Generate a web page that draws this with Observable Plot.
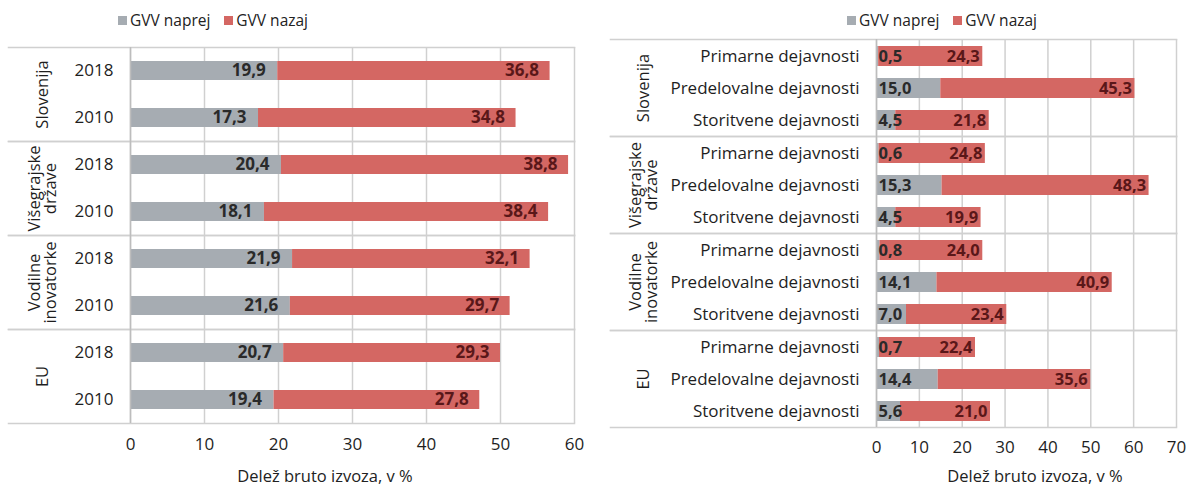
<!DOCTYPE html>
<html>
<head>
<meta charset="utf-8">
<script src="https://cdn.jsdelivr.net/npm/d3@7"></script>
<script src="https://cdn.jsdelivr.net/npm/@observablehq/plot@0.6"></script>
<style>
  html, body { margin: 0; padding: 0; background: #fff; }
  #wrap { position: relative; width: 1187px; height: 486px; overflow: hidden; font-family: "Open Sans", sans-serif; color: #222; }
  .panel { position: absolute; top: 0; }
  .legend { position: absolute; top: 9px; font-size: 15.5px; display: flex; gap: 14px; align-items: center; white-space: nowrap; }
  .legend span.sw { display: inline-block; width: 9px; height: 9px; margin-right: 3px; vertical-align: 1px; }
  .atitle { position: absolute; top: 464px; font-size: 16.5px; transform: translateX(-50%); white-space: nowrap; }
</style>
</head>
<body>
<div id="wrap">
  <div class="panel" id="left" style="left:0px"></div>
  <div class="panel" id="right" style="left:600px"></div>
  <div class="legend" id="legL" style="left:118px"></div>
  <div class="legend" id="legR" style="left:847px"></div>
  <div class="atitle" id="titL" style="left:325px"></div>
  <div class="atitle" id="titR" style="left:1035px"></div>
</div>
<script>
// ---- data ----
const seriesNames = ["GVV naprej", "GVV nazaj"];
const seriesColors = ["#A6ACB2", "#D46763"];
const groups = ["Slovenija", "Višegrajske\ndržave", "Vodilne\ninovatorke", "EU"];
const years = ["2018", "2010"];
const leftForward = [19.9, 17.3, 20.4, 18.1, 21.9, 21.6, 20.7, 19.4];
const leftBackward = [36.8, 34.8, 38.8, 38.4, 32.1, 29.7, 29.3, 27.8];
const sectors = ["Primarne dejavnosti", "Predelovalne dejavnosti", "Storitvene dejavnosti"];
const rightForward = [0.5, 15.0, 4.5, 0.6, 15.3, 4.5, 0.8, 14.1, 7.0, 0.7, 14.4, 5.6];
const rightBackward = [24.3, 45.3, 21.8, 24.8, 48.3, 19.9, 24.0, 40.9, 23.4, 22.4, 35.6, 21.0];
const leftTicks = [0, 10, 20, 30, 40, 50, 60];
const rightTicks = [0, 10, 20, 30, 40, 50, 60, 70];
const axisTitle = "Delež bruto izvoza, v %";

const fmt = v => v.toFixed(1).replace(".", ",");

function buildRows(cats, fwd, bwd) {
  const rows = [];
  groups.forEach((g, gi) => {
    cats.forEach((c, ci) => {
      const i = gi * cats.length + ci;
      rows.push({group: g, cat: c, series: seriesNames[0], x1: 0, x2: fwd[i], v: fwd[i]});
      rows.push({group: g, cat: c, series: seriesNames[1], x1: fwd[i], x2: fwd[i] + bwd[i], v: bwd[i]});
    });
  });
  return rows;
}

function makeChart(opts) {
  const rows = buildRows(opts.cats, opts.fwd, opts.bwd);
  const fw = rows.filter(d => d.series === seriesNames[0]);
  const bw = rows.filter(d => d.series === seriesNames[1]);
  const lineColor = "#d0d0d0";
  return Plot.plot({
    width: opts.width,
    height: 486,
    marginLeft: opts.marginLeft,
    marginRight: opts.marginRight,
    marginTop: opts.marginTop,
    marginBottom: opts.marginBottom,
    style: {fontFamily: "Open Sans, sans-serif", fontSize: "16px", color: "#222", background: "#fff"},
    x: {domain: [opts.ticks[0], opts.ticks[opts.ticks.length - 1]], ticks: opts.ticks},
    y: {domain: opts.cats, paddingInner: opts.padI, paddingOuter: opts.padI / 2},
    fy: {domain: groups, padding: 0},
    color: {domain: seriesNames, range: seriesColors},
    marks: [
      Plot.gridX(opts.ticks, {stroke: lineColor, strokeOpacity: 1, strokeWidth: 1.5}),
      Plot.frame({anchor: "top", stroke: lineColor, strokeWidth: 1.5, insetLeft: -opts.outerLeft}),
      Plot.frame({anchor: "bottom", stroke: lineColor, strokeWidth: 1.5, insetLeft: -opts.outerLeft}),
      Plot.barX(rows, {x1: "x1", x2: "x2", y: "cat", fy: "group", fill: "series"}),
      Plot.ruleX([0], {stroke: "#bdbdbd", strokeWidth: 1.5}),
      Plot.text(fw, {x: opts.fwdAtStart ? "x1" : "x2", y: "cat", fy: "group", text: d => fmt(d.v),
        textAnchor: opts.fwdAtStart ? "start" : "end", dx: opts.fwdDx, fill: "#2a2a2a",
        fontWeight: "bold", fontSize: opts.valSize}),
      Plot.text(bw, {x: "x2", y: "cat", fy: "group", text: d => fmt(d.v),
        textAnchor: "end", dx: opts.bwdDx, fill: "#5a1719", fontWeight: "bold", fontSize: opts.valSize}),
      Plot.axisY({tickSize: 0, tickPadding: opts.catPad, label: null, fontSize: opts.catSize, fill: "#1e1e1e"}),
      Plot.axisFy({anchor: "left", tickSize: 0, tickPadding: opts.groupPad, tickRotate: -90,
        textAnchor: "middle", lineAnchor: "middle", label: null, fontSize: "16.5px", fill: "#1e1e1e"}),
      Plot.axisX(opts.ticks, {tickSize: 0, tickPadding: opts.tickPad, label: null, fontSize: "17px", fill: "#1e1e1e"})
    ]
  });
}

document.getElementById("left").appendChild(makeChart({
  cats: years, fwd: leftForward, bwd: leftBackward, ticks: leftTicks,
  width: 590, marginLeft: 130, marginRight: 16, marginTop: 46, marginBottom: 62,
  padI: 0.6, outerLeft: 122, fwdAtStart: false, fwdDx: -12, bwdDx: -11,
  valSize: "17px", catPad: 17, catSize: "17px", groupPad: 88, tickPad: 14
}));

document.getElementById("right").appendChild(makeChart({
  cats: sectors, fwd: rightForward, bwd: rightBackward, ticks: rightTicks,
  width: 587, marginLeft: 276, marginRight: 11, marginTop: 37, marginBottom: 58,
  padI: 0.38, outerLeft: 266, fwdAtStart: true, fwdDx: 2, bwdDx: -3,
  valSize: "16.5px", catPad: 17, catSize: "17px", groupPad: 233, tickPad: 13
}));

function legend(id) {
  const el = document.getElementById(id);
  seriesNames.forEach((n, i) => {
    const item = document.createElement("div");
    item.innerHTML = `<span class="sw" style="background:${seriesColors[i]}"></span>${n}`;
    el.appendChild(item);
  });
}
legend("legL");
legend("legR");
document.getElementById("titL").textContent = axisTitle;
document.getElementById("titR").textContent = axisTitle;
</script>
</body>
</html>
